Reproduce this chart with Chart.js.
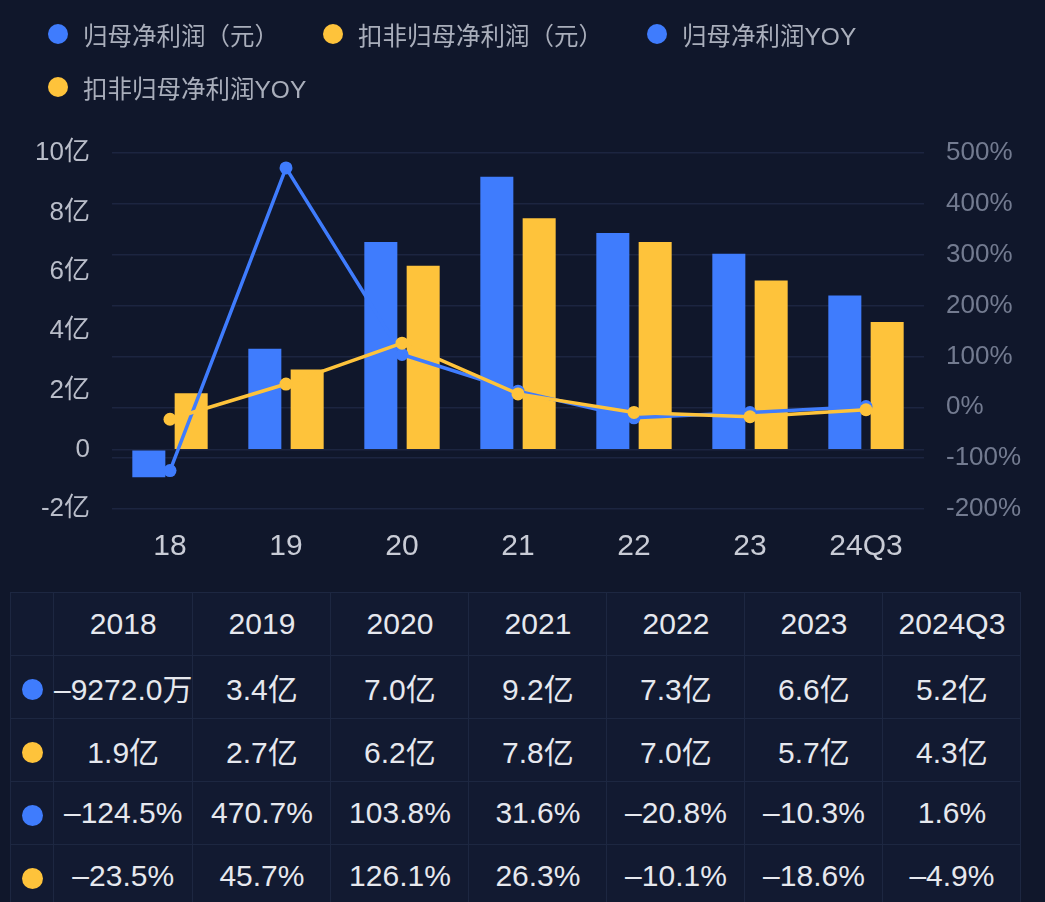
<!DOCTYPE html>
<html>
<head>
<meta charset="utf-8">
<script src="https://cdn.jsdelivr.net/npm/chart.js@4.4.1/dist/chart.umd.min.js"></script>
<style>
  html, body { margin:0; padding:0; }
  body { background:#10172b; width:1045px; height:902px; overflow:hidden; position:relative;
         font-family:"Liberation Sans","Noto Sans CJK SC",sans-serif; }
  #chartWrap { position:absolute; left:0; top:0; width:1045px; height:580px; }
  #legend { position:absolute; left:48px; top:19px; width:900px; display:flex; flex-wrap:wrap;
            column-gap:44px; row-gap:23px; z-index:2; }
  .li { display:flex; align-items:center; height:30px; font-size:24.5px; color:#a9aebb; white-space:nowrap; }
  .li .dot { width:20px; height:20px; border-radius:50%; margin-right:15px; flex:none; }
  #tbl { position:absolute; left:10px; top:592px; border-collapse:collapse; table-layout:fixed;
         background:#121a31; }
  #tbl td { border:1px solid #1d2741; height:62px; padding:0; text-align:center; vertical-align:middle;
            font-size:30px; color:#e6e8ee; white-space:nowrap; overflow:visible; }
  #tbl td .dot { display:inline-block; width:21px; height:21px; border-radius:50%; vertical-align:middle; }
</style>
</head>
<body>
<div id="legend"></div>
<div id="chartWrap"><canvas id="c"></canvas></div>
<table id="tbl"></table>
<script>
// ---- data ----
const categories = ['18', '19', '20', '21', '22', '23', '24Q3'];
const tableYears = ['2018', '2019', '2020', '2021', '2022', '2023', '2024Q3'];
const netProfit = [-0.9272, 3.4, 7.0, 9.2, 7.3, 6.6, 5.2];          // 亿元
const deductedProfit = [1.9, 2.7, 6.2, 7.8, 7.0, 5.7, 4.3];         // 亿元
const netProfitYoy = [-124.5, 470.7, 103.8, 31.6, -20.8, -10.3, 1.6];     // %
const deductedProfitYoy = [-23.5, 45.7, 126.1, 26.3, -10.1, -18.6, -4.9]; // %
const seriesNames = ['归母净利润（元）', '扣非归母净利润（元）', '归母净利润YOY', '扣非归母净利润YOY'];
const leftTicks = [-2, 0, 2, 4, 6, 8, 10];
const rightTicks = [-200, -100, 0, 100, 200, 300, 400, 500];

const BLUE = '#3f7cfd';
const YELLOW = '#fec33b';
const seriesColors = [BLUE, YELLOW, BLUE, YELLOW];

// ---- legend (HTML) ----
const legend = document.getElementById('legend');
seriesNames.forEach((name, i) => {
  const d = document.createElement('div');
  d.className = 'li';
  d.innerHTML = '<span class="dot" style="background:' + seriesColors[i] + '"></span><span></span>';
  d.lastChild.textContent = name;
  legend.appendChild(d);
});

// ---- chart ----
const gridColor = '#1c2540';
new Chart(document.getElementById('c'), {
  data: {
    labels: categories,
    datasets: [
      { type: 'line', label: seriesNames[3], data: deductedProfitYoy, yAxisID: 'yR', order: 0,
        borderColor: YELLOW, backgroundColor: YELLOW, borderWidth: 3.5, tension: 0,
        pointRadius: 6.5, pointBorderWidth: 0, pointBackgroundColor: YELLOW },
      { type: 'line', label: seriesNames[2], data: netProfitYoy, yAxisID: 'yR', order: 1,
        borderColor: BLUE, backgroundColor: BLUE, borderWidth: 3.5, tension: 0,
        pointRadius: 6.5, pointBorderWidth: 0, pointBackgroundColor: BLUE },
      { type: 'bar', label: seriesNames[0], data: netProfit, yAxisID: 'yL', order: 2,
        backgroundColor: BLUE, categoryPercentage: 0.73, barPercentage: 0.78 },
      { type: 'bar', label: seriesNames[1], data: deductedProfit, yAxisID: 'yL', order: 3,
        backgroundColor: YELLOW, categoryPercentage: 0.73, barPercentage: 0.78 }
    ]
  },
  options: {
    responsive: true,
    maintainAspectRatio: false,
    animation: false,
    events: [],
    layout: { padding: { top: 153, left: 0, right: 0, bottom: 0 } },
    plugins: { legend: { display: false }, tooltip: { enabled: false } },
    scales: {
      x: {
        grid: { display: false },
        border: { display: false },
        ticks: { color: '#c9ccd6', font: { size: 30, family: '"Liberation Sans","Noto Sans CJK SC"' }, padding: 12, maxRotation: 0 },
        afterFit: s => { s.height = 71; }
      },
      yL: {
        position: 'left',
        min: -2, max: 10,
        afterBuildTicks: s => { s.ticks = leftTicks.map(v => ({ value: v })); },
        grid: { drawTicks: false, color: c => (c.tick && c.tick.value === 0) ? gridColor : 'rgba(0,0,0,0)', lineWidth: 1.5 },
        border: { display: false },
        ticks: { color: '#b9bdc9', font: { size: 26, family: '"Liberation Sans","Noto Sans CJK SC"' }, padding: 22,
                 callback: v => v === 0 ? '0' : v + '亿' },
        afterFit: s => { s.width = 112; }
      },
      yR: {
        position: 'right',
        min: -200, max: 500,
        afterBuildTicks: s => { s.ticks = rightTicks.map(v => ({ value: v })); },
        grid: { drawTicks: false, color: gridColor, lineWidth: 1.5 },
        border: { display: false },
        ticks: { color: '#737b90', font: { size: 26, family: '"Liberation Sans","Noto Sans CJK SC"' }, padding: 22,
                 callback: v => v + '%' },
        afterFit: s => { s.width = 121; }
      }
    }
  }
});

// ---- table ----
const fmtMoney = v => {
  const sign = v < 0 ? '–' : '';
  const a = Math.abs(v);
  return a < 1 ? sign + (a * 10000).toFixed(1) + '万' : sign + a.toFixed(1) + '亿';
};
const fmtPct = v => (v < 0 ? '–' : '') + Math.abs(v).toFixed(1) + '%';
const tbl = document.getElementById('tbl');
const cg = document.createElement('colgroup');
[43, 138, 138, 138, 138, 138, 138, 138].forEach(w => {
  const c = document.createElement('col'); c.style.width = w + 'px'; cg.appendChild(c);
});
tbl.appendChild(cg);
const addRow = (dotColor, cells) => {
  const tr = document.createElement('tr');
  const first = document.createElement('td');
  if (dotColor) first.innerHTML = '<span class="dot" style="background:' + dotColor + '"></span>';
  tr.appendChild(first);
  cells.forEach(t => { const td = document.createElement('td'); td.textContent = t; tr.appendChild(td); });
  tbl.appendChild(tr);
};
addRow(null, tableYears);
addRow(BLUE, netProfit.map(fmtMoney));
addRow(YELLOW, deductedProfit.map(fmtMoney));
addRow(BLUE, netProfitYoy.map(fmtPct));
addRow(YELLOW, deductedProfitYoy.map(fmtPct));
</script>
</body>
</html>
